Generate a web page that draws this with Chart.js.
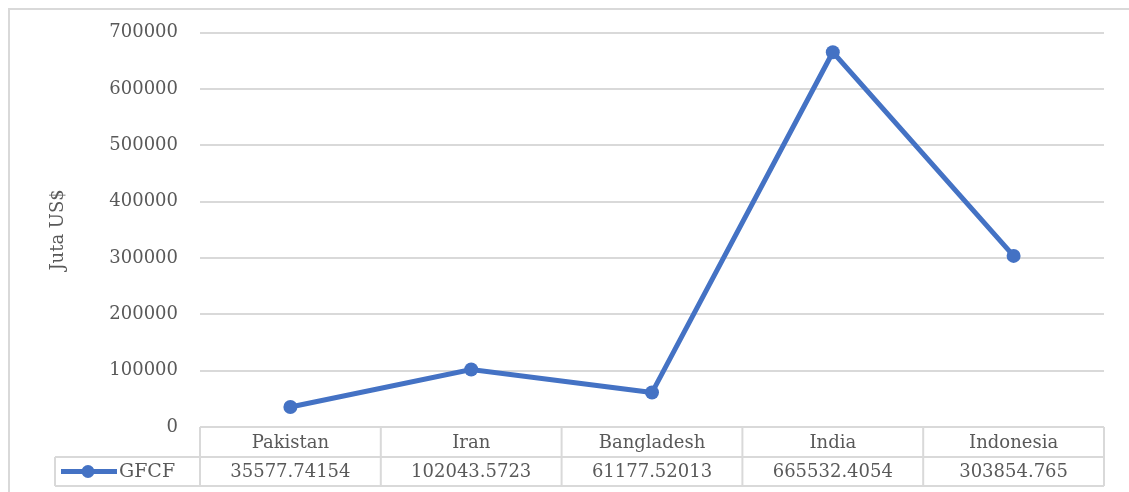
<!DOCTYPE html>
<html>
<head>
<meta charset="utf-8">
<script src="https://cdn.jsdelivr.net/npm/chart.js@4/dist/chart.umd.min.js"></script>
<style>
  html, body { margin: 0; padding: 0; background: #fff; }
  #wrap { width: 1129px; height: 492px; position: relative; }
</style>
</head>
<body>
<div id="wrap"><canvas id="gfcfChart"></canvas></div>
<script>
// data (values are printed in the table)
const countries = ['Pakistan', 'Iran', 'Bangladesh', 'India', 'Indonesia'];
const gfcfValues = [35577.74154, 102043.5723, 61177.52013, 665532.4054, 303854.765];
const seriesName = 'GFCF';
const yTicks = [0, 100000, 200000, 300000, 400000, 500000, 600000, 700000];

const blue = '#4472C4';
const grey = '#d9d9d9';
const textColor = '#595959';
const fontFamily = '"DejaVu Serif", "Liberation Serif", serif';

// draws the outer frame and the data table under the x axis
const dataTablePlugin = {
    id: 'dataTable',
    afterDraw(chart) {
        const ctx = chart.ctx;
        const area = chart.chartArea;
        const x = chart.scales.x;
        const rowTop = area.bottom;
        const rowMid = rowTop + 30;
        const rowBottom = rowTop + 59;
        const legendLeft = 55;

        ctx.save();
        ctx.strokeStyle = grey;
        ctx.lineWidth = 2;

        // outer frame (top and left edges are visible)
        ctx.beginPath();
        ctx.moveTo(9, 492);
        ctx.lineTo(9, 9);
        ctx.lineTo(1129, 9);
        ctx.stroke();

        // horizontal table lines
        ctx.beginPath();
        ctx.moveTo(area.left, rowTop);
        ctx.lineTo(area.right, rowTop);
        ctx.moveTo(legendLeft, rowMid);
        ctx.lineTo(area.right, rowMid);
        ctx.moveTo(legendLeft, rowBottom);
        ctx.lineTo(area.right, rowBottom);
        // vertical lines
        ctx.moveTo(legendLeft, rowMid);
        ctx.lineTo(legendLeft, rowBottom);
        const colW = (area.right - area.left) / countries.length;
        for (let i = 0; i <= countries.length; i++) {
            const cx = area.left + i * colW;
            ctx.moveTo(cx, rowTop);
            ctx.lineTo(cx, rowBottom);
        }
        ctx.stroke();

        // texts
        ctx.fillStyle = textColor;
        ctx.font = '18px ' + fontFamily;
        ctx.textAlign = 'center';
        ctx.textBaseline = 'middle';
        countries.forEach((c, i) => {
            const cx = x.getPixelForValue(i);
            ctx.fillText(c, cx, (rowTop + rowMid) / 2 + 1);
            ctx.fillText(String(gfcfValues[i]), cx, (rowMid + rowBottom) / 2 + 1);
        });

        // legend key
        const ly = (rowMid + rowBottom) / 2;
        ctx.strokeStyle = blue;
        ctx.lineWidth = 5;
        ctx.beginPath();
        ctx.moveTo(61, ly);
        ctx.lineTo(117, ly);
        ctx.stroke();
        ctx.fillStyle = blue;
        ctx.beginPath();
        ctx.arc(88, ly, 6.5, 0, Math.PI * 2);
        ctx.fill();
        ctx.fillStyle = textColor;
        ctx.textAlign = 'left';
        ctx.font = '19px ' + fontFamily;
        ctx.fillText(seriesName, 119, ly + 1);
        ctx.restore();
    }
};

const config = {
    type: 'line',
    data: {
        labels: countries,
        datasets: [{
            label: seriesName,
            data: gfcfValues,
            borderColor: blue,
            backgroundColor: blue,
            borderWidth: 5,
            pointRadius: 7,
            pointHoverRadius: 7,
            pointBackgroundColor: blue,
            pointBorderWidth: 0,
            tension: 0
        }]
    },
    options: {
        responsive: true,
        maintainAspectRatio: false,
        animation: false,
        layout: {
            padding: { left: 48, right: 25, top: 32, bottom: 65 }
        },
        plugins: {
            legend: { display: false },
            tooltip: { enabled: false }
        },
        scales: {
            x: {
                type: 'category',
                offset: true,
                display: false
            },
            y: {
                min: 0,
                max: 700000,
                afterBuildTicks(scale) {
                    scale.ticks = yTicks.map(v => ({ value: v }));
                },
                afterFit(scale) {
                    scale.width = 152;
                },
                border: { display: false },
                grid: {
                    color: grey,
                    lineWidth: 2,
                    drawTicks: false
                },
                ticks: {
                    color: textColor,
                    padding: 22,
                    font: { family: fontFamily, size: 18 },
                    callback: v => String(v)
                },
                title: {
                    display: true,
                    text: 'Juta US$',
                    color: textColor,
                    padding: { top: 0, bottom: 0 },
                    font: { family: fontFamily, size: 18 }
                }
            }
        }
    },
    plugins: [dataTablePlugin]
};

new Chart(document.getElementById('gfcfChart'), config);
</script>
</body>
</html>
